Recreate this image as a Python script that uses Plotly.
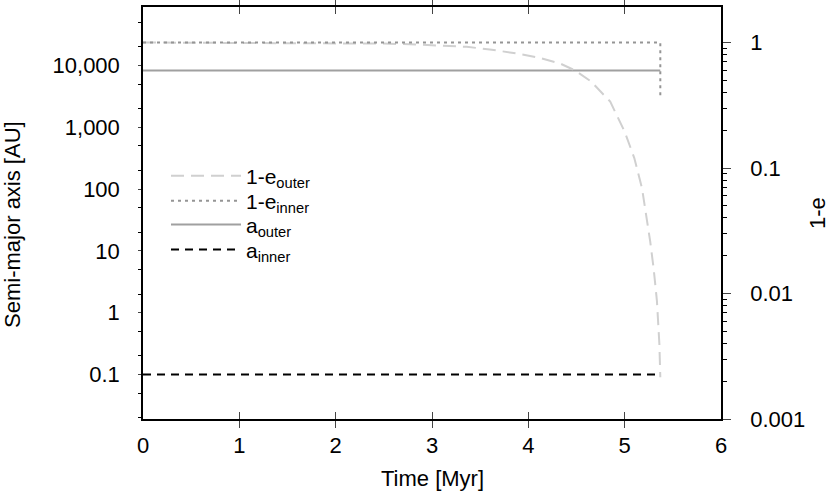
import plotly.graph_objects as go

# time [Myr] and values
t_end = 5.37
t_a = [0, t_end]
a_outer = [8300, 8300]
a_inner = [0.1, 0.1]

t_ein = [0, t_end, t_end]
one_e_inner = [1.0, 1.0, 0.36]

t_eout = [0, 1.5, 2.5, 2.77, 3.1, 3.36, 3.6, 3.88, 4.1, 4.33, 4.49, 4.65,
          4.85, 5.0, 5.1, 5.18, 5.265, 5.3, 5.335, 5.36, 5.37]
one_e_outer = [1.0, 0.995, 0.98, 0.97, 0.95, 0.924, 0.88, 0.818, 0.76, 0.68,
               0.596, 0.49, 0.338, 0.195, 0.12, 0.069, 0.026, 0.016, 0.0087,
               0.004, 0.00215]

a_ticks = [0.1, 1, 10, 100, 1000, 10000]
a_ticktext = ["0.1", "1", "10", "100", "1,000", "10,000"]
a_minor = [0.02, 0.05, 0.2, 0.5, 2, 5, 20, 50, 200, 500, 2000, 5000,
           20000, 50000]
e_ticks = [0.001, 0.01, 0.1, 1]
e_ticktext = ["0.001", "0.01", "0.1", "1"]
x_ticks = [0, 1, 2, 3, 4, 5, 6]

font = "Liberation Sans, Arial, Helvetica, sans-serif"

pw = 830 - 143 - 109
ph = 495 - 5 - 76


def px_x(x):
    return (x - 143) / pw


def px_y(y):
    return (495 - 76 - y) / ph


fig = go.Figure()
fig.add_trace(go.Scatter(x=t_eout, y=one_e_outer, yaxis="y2", mode="lines",
                         name="1-e<sub>outer</sub>", legend="legend",
                         line=dict(color="#d0d0d0", width=2, dash="13px,7px")))
fig.add_trace(go.Scatter(x=t_ein, y=one_e_inner, yaxis="y2", mode="lines",
                         name="1-e<sub>inner</sub>", legend="legend2",
                         line=dict(color="#959595", width=2, dash="3px,4px")))
fig.add_trace(go.Scatter(x=t_a, y=a_outer, mode="lines",
                         name="a<sub>outer</sub>", legend="legend3",
                         line=dict(color="#a0a0a0", width=2)))
fig.add_trace(go.Scatter(x=t_a, y=a_inner, mode="lines",
                         name="a<sub>inner</sub>", legend="legend4",
                         line=dict(color="black", width=2, dash="8px,6px")))

# one legend box per entry so the rows can sit as tight as in the original
legend_rows = [175, 200, 224, 249]
legends = {}
for i, row in enumerate(legend_rows):
    key = "legend" if i == 0 else "legend%d" % (i + 1)
    legends[key] = dict(x=px_x(166), y=px_y(row), xanchor="left",
                        yanchor="middle", bgcolor="rgba(0,0,0,0)",
                        font=dict(size=21), itemwidth=70)

fig.update_layout(
    width=830, height=495,
    margin=dict(l=143, r=109, t=5, b=76),
    paper_bgcolor="white", plot_bgcolor="white",
    font=dict(family=font, size=22, color="black"),
    showlegend=True,
    xaxis=dict(range=[0, 6], tickvals=x_ticks, ticks="inside", ticklen=7,
               showline=True, linecolor="black", linewidth=1.5,
               mirror="allticks", showgrid=False, zeroline=False,
               ticklabelstandoff=6),
    yaxis=dict(type="log", range=[-1.7196, 4.945], tickvals=a_ticks,
               ticktext=a_ticktext, ticks="outside", ticklen=3,
               minor=dict(tickvals=a_minor, ticks="outside", ticklen=3,
                          tickcolor="black"),
               showline=True, linecolor="black", linewidth=1.5,
               showgrid=False, zeroline=False, ticklabelstandoff=14),
    yaxis2=dict(type="log", range=[-3, 0.283], overlaying="y", side="right",
                tickvals=e_ticks, ticktext=e_ticktext, ticks="outside",
                ticklen=8,
                minor=dict(ticks="outside", ticklen=4, tickcolor="black",
                           dtick="D1", showgrid=False),
                showline=True, linecolor="black", linewidth=1.5,
                showgrid=False, zeroline=False, ticklabelstandoff=15),
    annotations=[
        dict(text="Time [Myr]", x=px_x(432), y=px_y(479)),
        dict(text="Semi-major axis [AU]", textangle=-90,
             x=px_x(13), y=px_y(224)),
        dict(text="1-e", textangle=-90, x=px_x(817), y=px_y(212)),
    ],
    **legends,
)
fig.update_annotations(xref="paper", yref="paper", showarrow=False,
                       xanchor="center", yanchor="middle")

fig.write_html("out.html", config={"displayModeBar": False},
               post_script="document.body.style.margin='0';")
